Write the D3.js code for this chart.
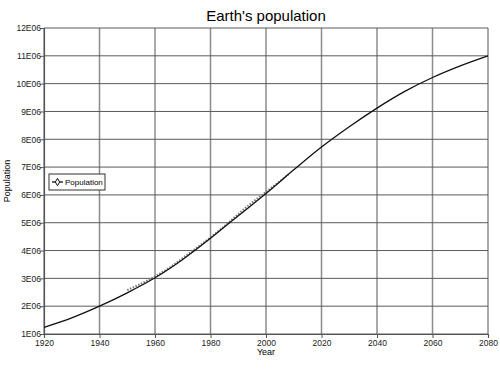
<!DOCTYPE html>
<html>
<head>
<meta charset="utf-8">
<script src="https://cdn.jsdelivr.net/npm/d3@7"></script>
<style>
  body { margin: 0; background: #fff; }
  text { font-family: "Liberation Sans", Arial, sans-serif; }
</style>
</head>
<body>
<div id="container"></div>
<script>
// model curve, millions (E06 on the axis)
var modelYears = [1920, 1930, 1940, 1950, 1960, 1970, 1980, 1990, 2000, 2010, 2020, 2030, 2040, 2050, 2060, 2070, 2080];
var modelValues = [1.24, 1.58, 2.0, 2.48, 3.02, 3.68, 4.44, 5.25, 6.05, 6.9, 7.72, 8.45, 9.12, 9.72, 10.22, 10.64, 11.0];

// observed points
var obsYears = [1950, 1955, 1960, 1965, 1970, 1975, 1980, 1985, 1990, 1995, 2000, 2005, 2008];
var obsValues = [2.55, 2.78, 3.04, 3.34, 3.70, 4.07, 4.44, 4.85, 5.28, 5.70, 6.08, 6.46, 6.70];

var yTicks = [1, 2, 3, 4, 5, 6, 7, 8, 9, 10, 11, 12];
var xTicks = [1920, 1940, 1960, 1980, 2000, 2020, 2040, 2060, 2080];

var width = 500,
    height = 371,
    margin = {left: 44, right: 12, top: 28, bottom: 37};

var svg = d3.select("div#container").append("svg")
    .attr("width", width)
    .attr("height", height);

var x = d3.scaleLinear().domain([1920, 2080]).range([margin.left, width - margin.right]);
var y = d3.scaleLinear().domain([1, 12]).range([height - margin.bottom, margin.top]);

// grid
svg.append("g").selectAll("line.v")
    .data(xTicks)
    .enter().append("line")
    .attr("x1", function (d) { return x(d); })
    .attr("x2", function (d) { return x(d); })
    .attr("y1", y(1))
    .attr("y2", y(12))
    .style("stroke", "#8c8c8c")
    .style("stroke-width", 1.5);

svg.append("g").selectAll("line.h")
    .data(yTicks)
    .enter().append("line")
    .attr("x1", x(1920))
    .attr("x2", x(2080))
    .attr("y1", function (d) { return y(d); })
    .attr("y2", function (d) { return y(d); })
    .style("stroke", "#5a5a5a")
    .style("stroke-width", 1);

// axes
var yAxis = d3.axisLeft(y).tickValues(yTicks).tickSize(4)
    .tickFormat(function (d) { return d + "E06"; });
var xAxis = d3.axisBottom(x).tickValues(xTicks).tickSize(4).tickFormat(d3.format("d"));

var gy = svg.append("g").attr("transform", "translate(" + x(1920) + ",0)").call(yAxis);
var gx = svg.append("g").attr("transform", "translate(0," + y(1) + ")").call(xAxis);

[gy, gx].forEach(function (g) {
    g.select(".domain").style("stroke", "#555").style("stroke-width", 1.2);
    g.selectAll(".tick line").style("stroke", "#555");
    g.selectAll(".tick text")
        .style("font-size", "8.5px")
        .style("fill", "#222");
});
gy.selectAll(".tick text").attr("x", -3);
gx.selectAll(".tick text").attr("y", 6);

// observed (dotted, under the model line)
var line = d3.line()
    .x(function (d) { return x(d[0]); })
    .y(function (d) { return y(d[1]); })
    .curve(d3.curveMonotoneX);

var obs = obsYears.map(function (yr, i) { return [yr, obsValues[i]]; });
var model = modelYears.map(function (yr, i) { return [yr, modelValues[i]]; });

svg.append("path")
    .datum(obs)
    .attr("d", line)
    .style("fill", "none")
    .style("stroke", "#777")
    .style("stroke-width", 2)
    .style("stroke-dasharray", "1.5,1.5")
    .attr("transform", "translate(0,-0.8)");

svg.append("path")
    .datum(model)
    .attr("d", line)
    .style("fill", "none")
    .style("stroke", "#111")
    .style("stroke-width", 1.3);

// title & labels
svg.append("text")
    .attr("x", 266)
    .attr("y", 21)
    .attr("text-anchor", "middle")
    .style("font-size", "15px")
    .text("Earth's population");

svg.append("text")
    .attr("x", 266)
    .attr("y", 355)
    .attr("text-anchor", "middle")
    .style("font-size", "9px")
    .text("Year");

svg.append("text")
    .attr("transform", "translate(10,181) rotate(-90)")
    .attr("text-anchor", "middle")
    .style("font-size", "9px")
    .text("Population");

// legend
var lg = svg.append("g").attr("transform", "translate(49,174)");
lg.append("rect")
    .attr("width", 56)
    .attr("height", 16)
    .style("fill", "#fff")
    .style("stroke", "#333")
    .style("stroke-width", 1);
lg.append("line")
    .attr("x1", 3).attr("x2", 14)
    .attr("y1", 8).attr("y2", 8)
    .style("stroke", "#111").style("stroke-width", 1.3);
lg.append("path")
    .attr("d", d3.symbol().type(d3.symbolDiamond).size(16))
    .attr("transform", "translate(8.5,8)")
    .style("fill", "#fff")
    .style("stroke", "#111");
lg.append("text")
    .attr("x", 16)
    .attr("y", 11)
    .style("font-size", "8px")
    .text("Population");
</script>
</body>
</html>
